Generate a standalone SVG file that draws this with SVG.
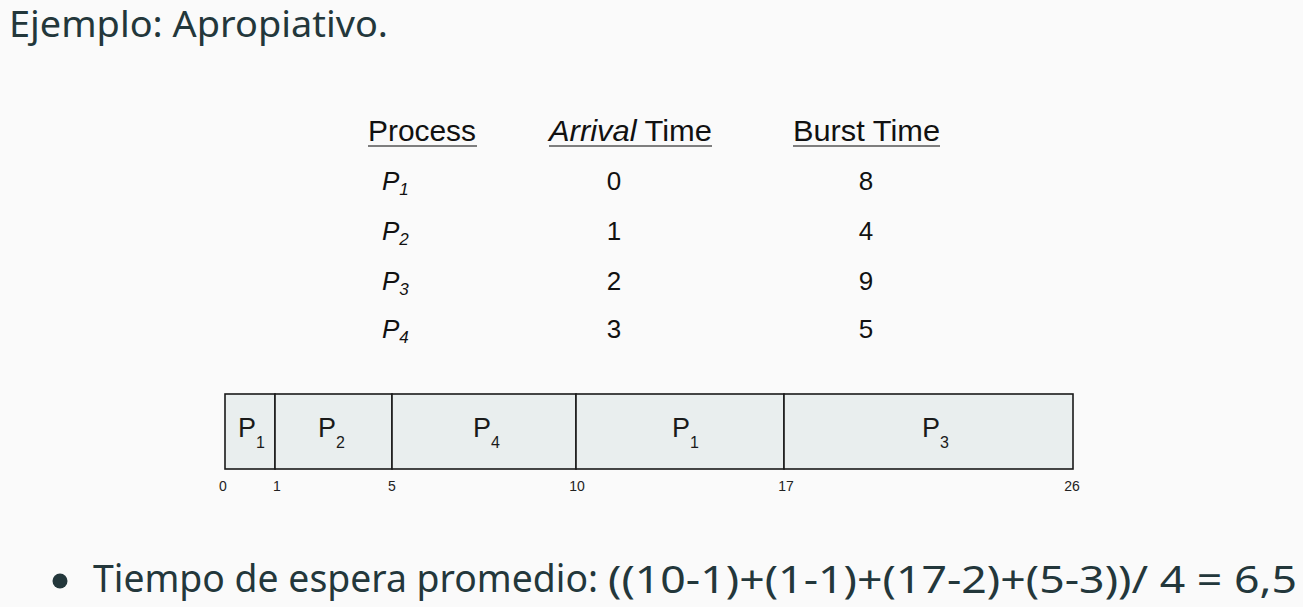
<svg xmlns="http://www.w3.org/2000/svg" width="1303" height="607" viewBox="0 0 1303 607">
  <style>
    .slide { font-family: "Noto Sans", "Open Sans", sans-serif; font-weight: 400; fill: #23373b; }
    .tbl { font-family: "Liberation Sans", Arial, sans-serif; fill: #111; }
    .hdr { font-size: 29px; }
    .row { font-size: 26px; text-anchor: middle; }
    .pit { font-size: 26px; font-style: italic; }
    .sub { font-size: 17px; font-style: italic; }
    .ul { stroke: #555; stroke-width: 1.6; }
    .cell { fill: #e9eeee; stroke: #1a1a1a; stroke-width: 1.6; }
    .gl { font-family: "Liberation Sans", Arial, sans-serif; font-size: 27px; fill: #1a1a1a; }
    .gs { font-size: 16px; }
    .tick { font-family: "Liberation Sans", Arial, sans-serif; font-size: 14px; fill: #222; text-anchor: middle; }
  </style>
  <rect width="1303" height="607" fill="#fafafa"/>

  <g id="title">
    <text class="slide" x="9" y="37" font-size="36" textLength="379" lengthAdjust="spacingAndGlyphs">Ejemplo:  Apropiativo.</text>
  </g>

  <g id="table" class="tbl">
    <g id="headers">
      <text class="tbl hdr" x="368" y="141" textLength="108" lengthAdjust="spacingAndGlyphs">Process</text>
      <line class="ul" x1="368" y1="146" x2="477" y2="146"/>
      <text class="tbl hdr" x="549" y="141" textLength="163" lengthAdjust="spacingAndGlyphs"><tspan font-style="italic">Arrival</tspan> Time</text>
      <line class="ul" x1="549" y1="146" x2="712" y2="146"/>
      <text class="tbl hdr" x="793" y="141" textLength="147" lengthAdjust="spacingAndGlyphs">Burst Time</text>
      <line class="ul" x1="793" y1="146" x2="940" y2="146"/>
    </g>
    <g id="row-p1">
      <text class="tbl pit" x="382" y="190">P<tspan class="sub" dy="5">1</tspan></text>
      <text class="tbl row" x="614" y="190">0</text>
      <text class="tbl row" x="866" y="190">8</text>
    </g>
    <g id="row-p2">
      <text class="tbl pit" x="382" y="240">P<tspan class="sub" dy="5">2</tspan></text>
      <text class="tbl row" x="614" y="240">1</text>
      <text class="tbl row" x="866" y="240">4</text>
    </g>
    <g id="row-p3">
      <text class="tbl pit" x="382" y="290">P<tspan class="sub" dy="5">3</tspan></text>
      <text class="tbl row" x="614" y="290">2</text>
      <text class="tbl row" x="866" y="290">9</text>
    </g>
    <g id="row-p4">
      <text class="tbl pit" x="382" y="338">P<tspan class="sub" dy="5">4</tspan></text>
      <text class="tbl row" x="614" y="338">3</text>
      <text class="tbl row" x="866" y="338">5</text>
    </g>
  </g>

  <g id="gantt">
    <g id="cell-p1a">
      <rect class="cell" x="225" y="394" width="50" height="75"/>
      <text class="gl" x="238" y="437">P<tspan class="gs" dy="11">1</tspan></text>
    </g>
    <g id="cell-p2">
      <rect class="cell" x="275" y="394" width="117" height="75"/>
      <text class="gl" x="318" y="437">P<tspan class="gs" dy="11">2</tspan></text>
    </g>
    <g id="cell-p4">
      <rect class="cell" x="392" y="394" width="184" height="75"/>
      <text class="gl" x="473" y="437">P<tspan class="gs" dy="11">4</tspan></text>
    </g>
    <g id="cell-p1b">
      <rect class="cell" x="576" y="394" width="208" height="75"/>
      <text class="gl" x="672" y="437">P<tspan class="gs" dy="11">1</tspan></text>
    </g>
    <g id="cell-p3">
      <rect class="cell" x="784" y="394" width="289" height="75"/>
      <text class="gl" x="922" y="437">P<tspan class="gs" dy="11">3</tspan></text>
    </g>
    <g id="ticks">
      <text class="tick" x="223" y="491">0</text>
      <text class="tick" x="277" y="491">1</text>
      <text class="tick" x="392" y="491">5</text>
      <text class="tick" x="577" y="491">10</text>
      <text class="tick" x="786" y="491">17</text>
      <text class="tick" x="1072" y="491">26</text>
    </g>
  </g>

  <g id="connectors"></g>

  <g id="bullet">
    <circle cx="60" cy="581" r="7.5" fill="#23373b"/>
    <text class="slide" x="93" y="592" font-size="39" textLength="505" lengthAdjust="spacingAndGlyphs">Tiempo de espera promedio:</text>
    <text class="slide" x="608" y="593" font-size="39" textLength="689" lengthAdjust="spacingAndGlyphs">((10-1)+(1-1)+(17-2)+(5-3))/ 4 = 6,5</text>
  </g>
</svg>
